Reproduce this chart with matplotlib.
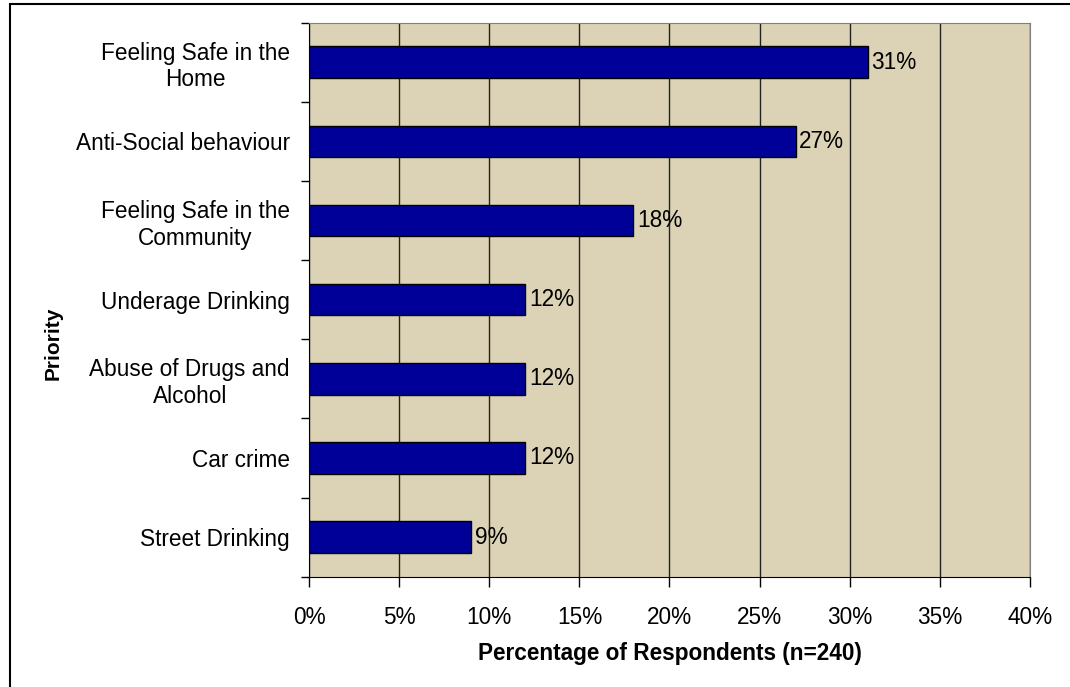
import matplotlib.pyplot as plt
from matplotlib.patches import Rectangle
from matplotlib.ticker import FixedLocator, FuncFormatter
import numpy as np

plt.rcParams['font.family'] = ['Liberation Sans', 'DejaVu Sans']

priorities = ["Feeling Safe in the\nHome", "Anti-Social behaviour",
              "Feeling Safe in the\nCommunity", "Underage Drinking",
              "Abuse of Drugs and\nAlcohol", "Car crime", "Street Drinking"]
percent = [31, 27, 18, 12, 12, 12, 9]
xticks = [0, 5, 10, 15, 20, 25, 30, 35, 40]

fs = 16.3

fig = plt.figure(figsize=(10.7, 6.87), dpi=100)
ax = fig.add_axes([0.2888, 0.1606, 0.9626 - 0.2888, 0.967 - 0.1606])
ax.set_facecolor("#DCD3B7")

ypos = np.arange(len(priorities))
ax.barh(ypos, percent, height=0.4, color="#000099", edgecolor="black",
        linewidth=1, zorder=3)
for y, v in zip(ypos, percent):
    ax.text(v + 0.2, y, "{}%".format(v), va="center", ha="left", fontsize=fs)

ax.set_xlim(0, 40)
ax.set_ylim(len(priorities) - 0.5, -0.5)
ax.set_xticks(xticks)
ax.xaxis.set_major_formatter(FuncFormatter(lambda v, p: "{:.0f}%".format(v)))
ax.grid(axis="x", color="#222222", linewidth=1, zorder=1)

ax.set_yticks(ypos)
ax.set_yticklabels(priorities, multialignment="center")
ax.yaxis.set_minor_locator(FixedLocator(np.arange(-0.5, len(priorities), 1)))
ax.tick_params(axis="y", which="major", length=0, pad=13.7, labelsize=fs)
ax.tick_params(axis="y", which="minor", length=6, width=1, color="black")
ax.tick_params(axis="x", which="major", length=7, width=1, pad=14,
               labelsize=fs)

for side in ["left", "bottom"]:
    ax.spines[side].set_color("black")
for side in ["top", "right"]:
    ax.spines[side].set_color("#808080")

ax.set_xlabel("Percentage of Respondents (n=240)", fontsize=fs,
              fontweight="bold")
ax.xaxis.set_label_coords(669.5 / 1070, 1 - 642 / 687, transform=fig.transFigure)
ax.set_ylabel("Priority", fontsize=15, fontweight="bold")
ax.yaxis.set_label_coords(63 / 1070, 0.5, transform=fig.transFigure)

fig.patches.append(Rectangle((9.5 / 1070, -0.05), 1.2, 1 - 3.5 / 687 + 0.05,
                             transform=fig.transFigure, fill=False,
                             edgecolor="black", linewidth=1.5))

fig.savefig("out.png")
